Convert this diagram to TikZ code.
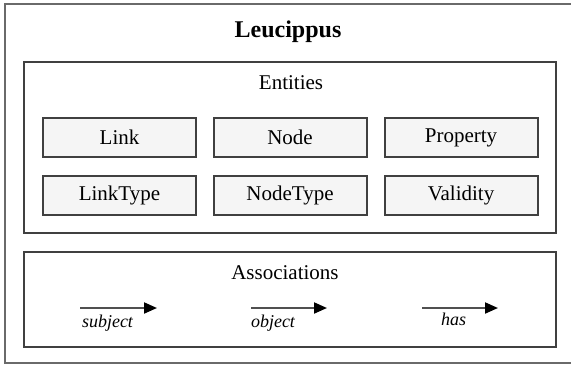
\documentclass[tikz,border=0pt]{standalone}
\usepackage{fontspec}
\setmainfont{Liberation Serif}
\usepackage{tikz}
\usetikzlibrary{arrows.meta}
\definecolor{edgegray}{HTML}{404040}
\definecolor{framegray}{HTML}{6A6A6A}
\definecolor{boxfill}{HTML}{F5F5F5}
\definecolor{shaftgray}{HTML}{505050}

\begin{document}
\begin{tikzpicture}[x=1pt, y=-1pt,
	outerframe/.style={draw=framegray, line width=1.5pt, inner sep=0pt},
	container/.style={draw=edgegray, line width=2pt, inner sep=0pt, minimum width=532pt},
	entity/.style={draw=edgegray, line width=2pt, fill=boxfill, inner sep=0pt,
		minimum width=153pt, minimum height=39pt, font=\fontsize{21}{24}\selectfont},
	heading/.style={inner sep=0pt, font=\fontsize{21}{24}\selectfont},
	assoc/.style={draw=shaftgray, line width=2pt, -{Triangle[length=13pt, width=11pt, color=black]}},
	rolename/.style={inner sep=0pt, font=\fontsize{18}{20}\selectfont\itshape}]
	\useasboundingbox (0,0) rectangle (571,365);
	\clip (0,0) rectangle (571,365);

	% outer frame, cut off at the right edge
	\node[outerframe, minimum width=575pt, minimum height=359pt] (leucippusframe) at (292.5,183.5) {};
	\node[heading, font=\fontsize{24}{26}\selectfont\bfseries] (leucippus) at (288,32) {Leucippus};

	% entities
	\node[container, minimum height=171pt] (entities) at (290,147.5) {};
	\node[heading] (entitieslabel) at (291,83) {Entities};
	\node[entity] (link) at (119.5,137.5) {Link};
	\node[entity] (nodebox) at (290,137.5) {Node};
	\node[entity] (property) at (461,137.5) {Property};
	\node[entity] (linktype) at (119.5,195) {LinkType};
	\node[entity] (nodetype) at (290,195) {NodeType};
	\node[entity] (validity) at (461,195) {Validity};

	% associations
	\node[container, minimum height=95pt] (associations) at (290,299.5) {};
	\node[heading] (associationslabel) at (285,273) {Associations};

	\coordinate (subjecttail) at (80,308);
	\coordinate (subjecthead) at (157,308);
	\coordinate (objecttail) at (251,308);
	\coordinate (objecthead) at (327,308);
	\coordinate (hastail) at (422,308);
	\coordinate (hashead) at (498,308);

	\draw[assoc] (subjecttail) -- (subjecthead);
	\draw[assoc] (objecttail) -- (objecthead);
	\draw[assoc] (hastail) -- (hashead);

	\node[rolename] (subject) at (107.5,323) {subject};
	\node[rolename] (object) at (273,323) {object};
	\node[rolename] (has) at (453.5,319) {has};
\end{tikzpicture}
\end{document}
